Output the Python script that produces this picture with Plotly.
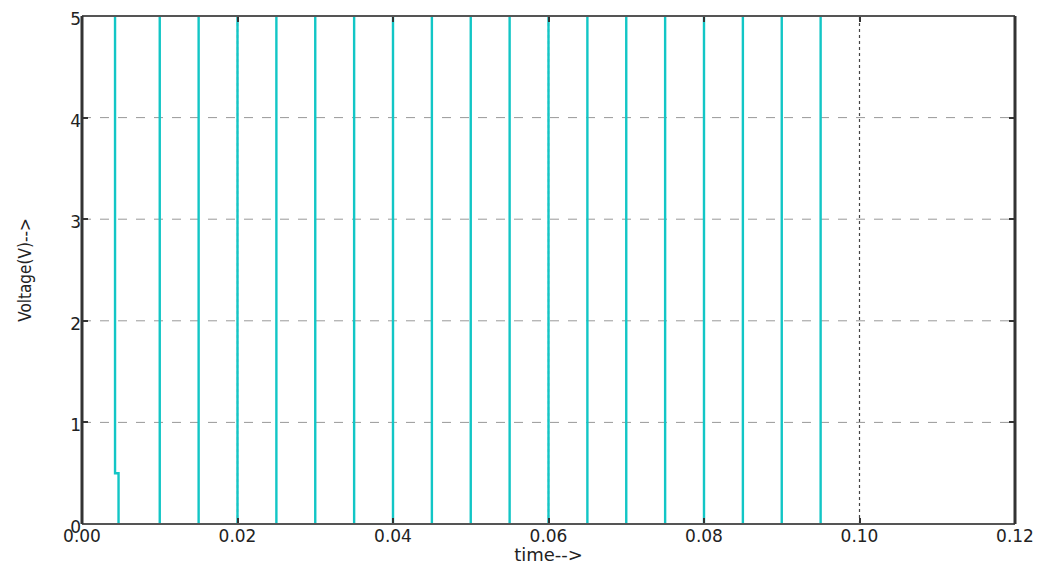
import plotly.graph_objects as go

# Switching waveform: transition instants (s) and the level held after each one (V)
edge_times = [0.0, 0.00425, 0.0047, 0.010, 0.015, 0.020, 0.025, 0.030, 0.035,
              0.040, 0.045, 0.050, 0.055, 0.060, 0.065, 0.070, 0.075, 0.080,
              0.085, 0.090, 0.095, 0.100]
levels = [5.0, 0.5, 0.0, 5.0, 0.0, 5.0, 0.0, 5.0, 0.0,
          5.0, 0.0, 5.0, 0.0, 5.0, 0.0, 5.0, 0.0, 5.0,
          0.0, 5.0, 0.0, 0.0]

x_ticks = [0.00, 0.02, 0.04, 0.06, 0.08, 0.10, 0.12]
x_tick_text = ["0.00", "0.02", "0.04", "0.06", "0.08", "0.10", "0.12"]
y_ticks = [0, 1, 2, 3, 4, 5]
y_min, y_max = 0.0, 5.0

# Build the step path; runs that sit on the axis limits coincide with the frame,
# so the path is broken there and only the edges (and inner plateaus) are drawn.
px, py = [], []
for i in range(1, len(edge_times)):
    t = edge_times[i]
    prev, cur = levels[i - 1], levels[i]
    if prev in (y_min, y_max):
        px.append(None)
        py.append(None)
    px += [t, t]
    py += [prev, cur]

fig = go.Figure()

for xv in x_ticks[1:-1]:
    fig.add_shape(type="line", xref="x", yref="paper", x0=xv, x1=xv, y0=0, y1=1,
                  line=dict(color="#444444", width=1.2, dash="dot"), layer="below")
for yv in y_ticks[1:-1]:
    fig.add_shape(type="line", xref="paper", yref="y", x0=0, x1=1, y0=yv, y1=yv,
                  line=dict(color="#999999", width=1, dash="dash"), layer="below")

fig.add_trace(go.Scatter(
    x=px, y=py, mode="lines", connectgaps=False,
    line=dict(color="#12C6C6", width=2.4), showlegend=False,
))

# frame: heavier left/right spines, lighter top/bottom
fig.add_shape(type="line", xref="paper", yref="paper", x0=0, x1=1, y0=0, y1=0,
              line=dict(color="#555555", width=2), layer="above")
fig.add_shape(type="line", xref="paper", yref="paper", x0=0, x1=1, y0=1, y1=1,
              line=dict(color="#555555", width=2), layer="above")
fig.add_shape(type="line", xref="paper", yref="paper", x0=0, x1=0, y0=0, y1=1,
              line=dict(color="#333333", width=3), layer="above")
fig.add_shape(type="line", xref="paper", yref="paper", x0=1, x1=1, y0=0, y1=1,
              line=dict(color="#333333", width=3), layer="above")

tick_font = dict(family="DejaVu Sans, sans-serif", size=17, color="#222222")

fig.update_xaxes(
    range=[0, 0.12], tickvals=x_ticks, ticktext=x_tick_text,
    ticks="inside", ticklen=6, tickwidth=1.5, tickcolor="#333333",
    mirror="allticks", showline=False, showgrid=False, zeroline=False,
    tickfont=tick_font, automargin=False, ticklabelstandoff=0,
    title=dict(text="time-->", font=dict(family="DejaVu Sans, sans-serif", size=18, color="#222222"),
               standoff=6),
)
fig.update_yaxes(
    range=[y_min, y_max], tickvals=y_ticks,
    ticks="inside", ticklen=6, tickwidth=1.5, tickcolor="#333333",
    mirror="allticks", showline=False, showgrid=False, zeroline=False,
    tickfont=tick_font, automargin=False, ticklabelshift=3,
    title=dict(text="Voltage(V)-->",
               font=dict(family="Liberation Sans Narrow, DejaVu Sans Condensed, sans-serif",
                         size=17, color="#222222"),
               standoff=34),
)

fig.update_layout(
    width=1051, height=565,
    margin=dict(l=82, r=36, t=16, b=41),
    paper_bgcolor="white", plot_bgcolor="white",
)

fig.write_html("out.html")
